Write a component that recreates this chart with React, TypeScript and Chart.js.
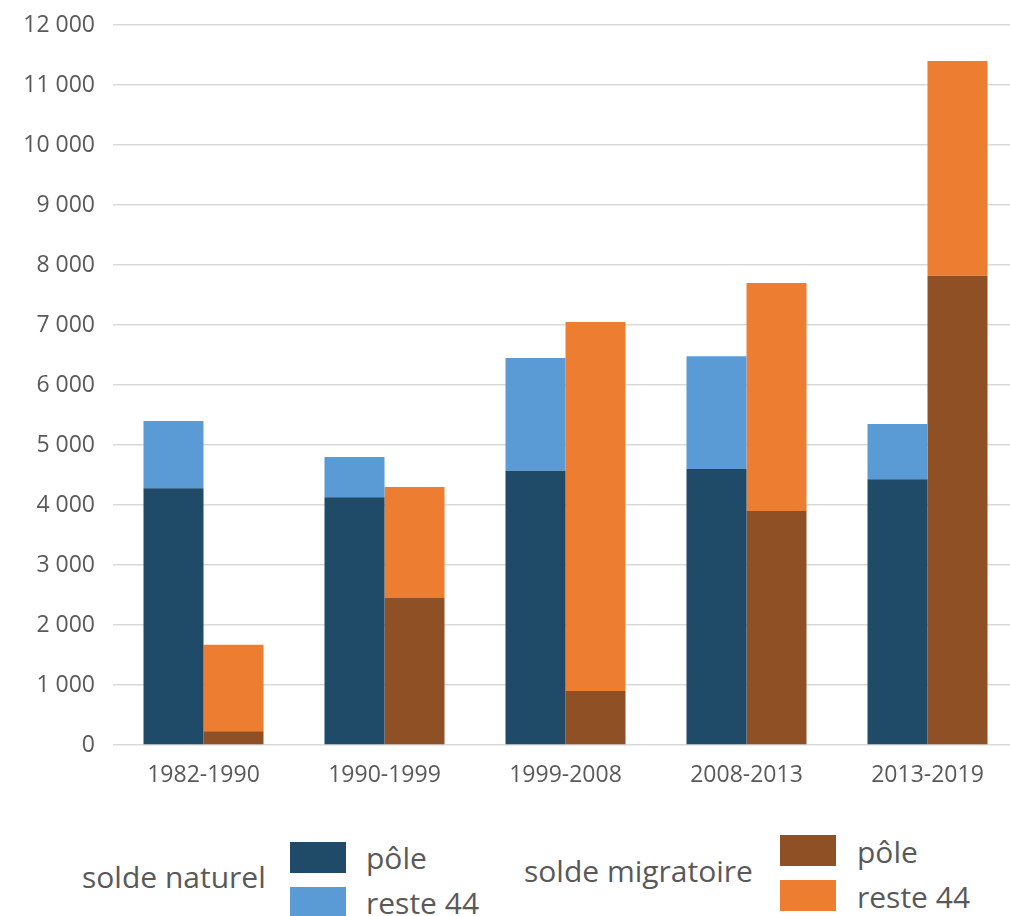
import React, { useEffect, useRef } from "react";
import { Chart, registerables } from "chart.js";

Chart.register(...registerables);

const categories = ["1982-1990", "1990-1999", "1999-2008", "2008-2013", "2013-2019"];
const naturelPole = [4280, 4130, 4570, 4600, 4430];
const naturelReste = [1120, 670, 1880, 1880, 920];
const migratoirePole = [230, 2450, 900, 3900, 7820];
const migratoireReste = [1440, 1850, 6150, 3800, 3580];

const yMax = 12000;
const yStep = 1000;

const C_NAT_POLE = "#1f4a68";
const C_NAT_RESTE = "#5b9bd5";
const C_MIG_POLE = "#8e5024";
const C_MIG_RESTE = "#ed7d31";
const TEXT = "#595959";
const FONT = "'Open Sans', 'Noto Sans', sans-serif";

function fmt(v: number): string {
  return String(v).replace(/\B(?=(\d{3})+(?!\d))/g, " ");
}

export default function App() {
  const ref = useRef<HTMLCanvasElement | null>(null);

  useEffect(() => {
    if (!ref.current) return;
    const chart = new Chart(ref.current, {
      type: "bar",
      data: {
        labels: categories,
        datasets: [
          { label: "pôle", data: naturelPole, backgroundColor: C_NAT_POLE, stack: "naturel" },
          { label: "reste 44", data: naturelReste, backgroundColor: C_NAT_RESTE, stack: "naturel" },
          { label: "pôle", data: migratoirePole, backgroundColor: C_MIG_POLE, stack: "migratoire" },
          { label: "reste 44", data: migratoireReste, backgroundColor: C_MIG_RESTE, stack: "migratoire" },
        ],
      },
      options: {
        animation: false,
        responsive: false,
        maintainAspectRatio: false,
        layout: { padding: { top: 25, right: 0, left: 0, bottom: 0 } },
        datasets: { bar: { categoryPercentage: 0.663, barPercentage: 1.0, borderWidth: 0 } },
        plugins: { legend: { display: false }, tooltip: { enabled: false } },
        scales: {
          x: {
            stacked: true,
            grid: { display: false, drawTicks: false },
            border: { display: false },
            ticks: { color: TEXT, font: { family: FONT, size: 23 }, padding: 17, maxRotation: 0 },
            afterFit: (s: any) => { s.height = 55; s.paddingLeft = 0; s.paddingRight = 0; },
          },
          y: {
            stacked: true,
            min: 0,
            max: yMax,
            grid: { color: "#d9d9d9", lineWidth: 1.5, drawTicks: false },
            border: { display: false },
            ticks: {
              stepSize: yStep,
              color: TEXT,
              font: { family: FONT, size: 23 },
              padding: 18,
              callback: (v: any) => fmt(Number(v)),
            },
            afterFit: (s: any) => { s.width = 113; s.paddingTop = 0; s.paddingBottom = 0; },
          },
        },
      },
    });
    return () => chart.destroy();
  }, []);

  const legendText: React.CSSProperties = {
    position: "absolute",
    fontFamily: FONT,
    color: TEXT,
    fontSize: 30,
    lineHeight: "32px",
    whiteSpace: "nowrap",
  };
  const swatch = (left: number, top: number, color: string): React.CSSProperties => ({
    position: "absolute",
    left,
    top,
    width: 56,
    height: 31,
    background: color,
  });

  return (
    <div style={{ position: "fixed", left: 0, top: 0, width: 1010, height: 916, overflow: "hidden", background: "#fff" }}>
      <canvas ref={ref} width={1018} height={800} style={{ position: "absolute", left: 0, top: 0, width: 1018, height: 800 }} />
      <div style={{ ...legendText, left: 82, top: 861 }}>solde naturel</div>
      <div style={swatch(290, 842, C_NAT_POLE)} />
      <div style={swatch(290, 887, C_NAT_RESTE)} />
      <div style={{ ...legendText, left: 366, top: 842 }}>pôle</div>
      <div style={{ ...legendText, left: 366, top: 887 }}>reste 44</div>
      <div style={{ ...legendText, left: 524, top: 855 }}>solde migratoire</div>
      <div style={swatch(780, 835, C_MIG_POLE)} />
      <div style={swatch(780, 880, C_MIG_RESTE)} />
      <div style={{ ...legendText, left: 857, top: 836 }}>pôle</div>
      <div style={{ ...legendText, left: 857, top: 881 }}>reste 44</div>
    </div>
  );
}
